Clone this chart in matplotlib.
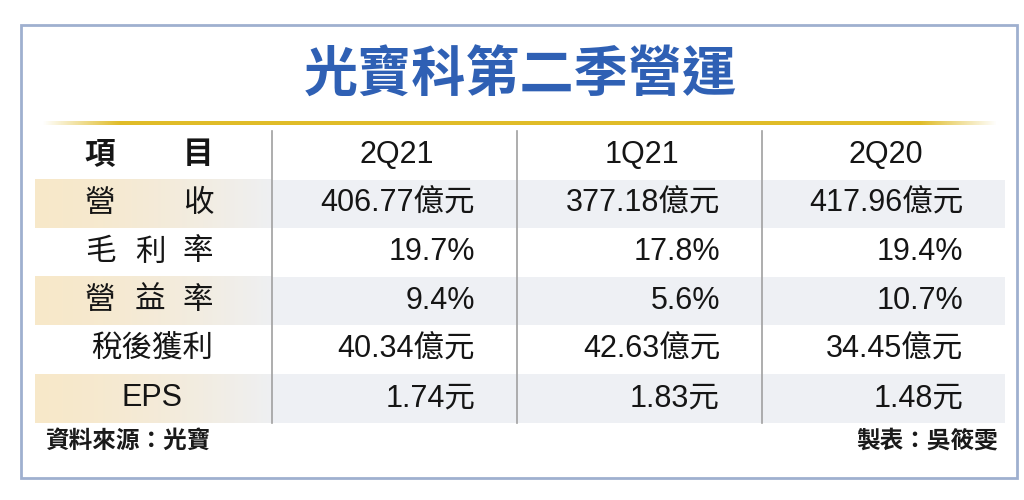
import numpy as np
import matplotlib
matplotlib.use("Agg")
import matplotlib.pyplot as plt
from matplotlib.patches import Rectangle

plt.rcParams['font.family'] = ['Liberation Sans', 'Noto Sans CJK TC', 'DejaVu Sans']

# data
title = "光寶科第二季營運"
periods = ["2Q21", "1Q21", "2Q20"]
items = ["營收", "毛利率", "營益率", "稅後獲利", "EPS"]
revenue = [406.77, 377.18, 417.96]        # 億元
gross_margin = [19.7, 17.8, 19.4]         # %
op_margin = [9.4, 5.6, 10.7]              # %
net_income = [40.34, 42.63, 34.45]        # 億元
eps = [1.74, 1.83, 1.48]                  # 元
source = "資料來源：光寶"
maker = "製表：吳筱雯"

rows = [
    [f"{v:.2f}億元" for v in revenue],
    [f"{v:.1f}%" for v in gross_margin],
    [f"{v:.1f}%" for v in op_margin],
    [f"{v:.2f}億元" for v in net_income],
    [f"{v:.2f}元" for v in eps],
]

fig = plt.figure(figsize=(10.24, 5), dpi=100)
ax = fig.add_axes([0, 0, 1, 1])
ax.set_xlim(0, 1024)
ax.set_ylim(500, 0)
ax.axis("off")

# outer frame
ax.add_patch(Rectangle((21, 25), 996, 453, fill=False, ec="#9fb0cf", lw=2))

# title
ax.text(520, 76, title, ha="center", va="center", fontsize=39,
        fontweight="bold", color="#2f60b4", family=["Noto Sans CJK TC"])

# gold rule with faded ends
xs = np.linspace(0, 1, 400)
alpha = np.clip(np.minimum(xs / 0.08, (1 - xs) / 0.08), 0, 1)
gold = np.zeros((1, len(xs), 4))
gold[..., 0] = 0.88
gold[..., 1] = 0.74
gold[..., 2] = 0.16
gold[..., 3] = alpha
ax.imshow(gold, extent=(42, 998, 125, 121), aspect="auto", interpolation="bilinear", zorder=2)

# table geometry
row_top = 131
row_h = 48.6
col_edges = [35, 272, 517, 762, 1005]
head_y = row_top + row_h / 2

# shaded rows
for i in (0, 2, 4):
    y0 = row_top + row_h * (i + 1)
    ax.add_patch(Rectangle((col_edges[1], y0), col_edges[-1] - col_edges[1], row_h,
                           color="#eef0f4", lw=0, zorder=1))
    g = np.linspace(0, 1, 200)
    beige = np.array([0.97, 0.91, 0.79])
    grey = np.array([0.935, 0.94, 0.95])
    grad = (beige[None, :] * (1 - g[:, None] ** 1.5) + grey[None, :] * g[:, None] ** 1.5)[None, :, :]
    ax.imshow(grad, extent=(col_edges[0], col_edges[1], y0 + row_h, y0), aspect="auto",
              interpolation="bilinear", zorder=1)

# vertical separators
for x in col_edges[1:4]:
    ax.plot([x, x], [row_top, row_top + row_h * 6], color="#a0a0a0", lw=1.2, zorder=3)

txt = dict(fontsize=22, color="#151515", va="center", zorder=4, fontweight=500)

# header row
ax.text(100, head_y, "項", ha="center", **{**txt, "fontweight": "bold"})
ax.text(198, head_y, "目", ha="center", **{**txt, "fontweight": "bold"})
for j, p in enumerate(periods):
    cx = (col_edges[j + 1] + col_edges[j + 2]) / 2 + 2
    ax.text(cx, head_y, p, ha="center", **txt)

# item labels
label_pos = {2: [100, 198], 3: [100, 150, 198]}
for i, name in enumerate(items):
    y = row_top + row_h * (i + 1.5)
    if name == "稅後獲利" or name == "EPS":
        ax.text(152, y, name, ha="center", **txt)
    else:
        for ch, x in zip(name, label_pos[len(name)]):
            ax.text(x, y, ch, ha="center", **txt)
    for j, val in enumerate(rows[i]):
        ax.text(col_edges[j + 2] - 42, y, val, ha="right", **txt)

# footer
ax.text(45, 441, source, ha="left", va="center", fontsize=17, fontweight="bold",
        color="#1a1a1a", family=["Noto Sans CJK TC"])
ax.text(998, 441, maker, ha="right", va="center", fontsize=17, fontweight="bold",
        color="#1a1a1a", family=["Noto Sans CJK TC"])

fig.savefig("out.png", dpi=100, facecolor="white")
